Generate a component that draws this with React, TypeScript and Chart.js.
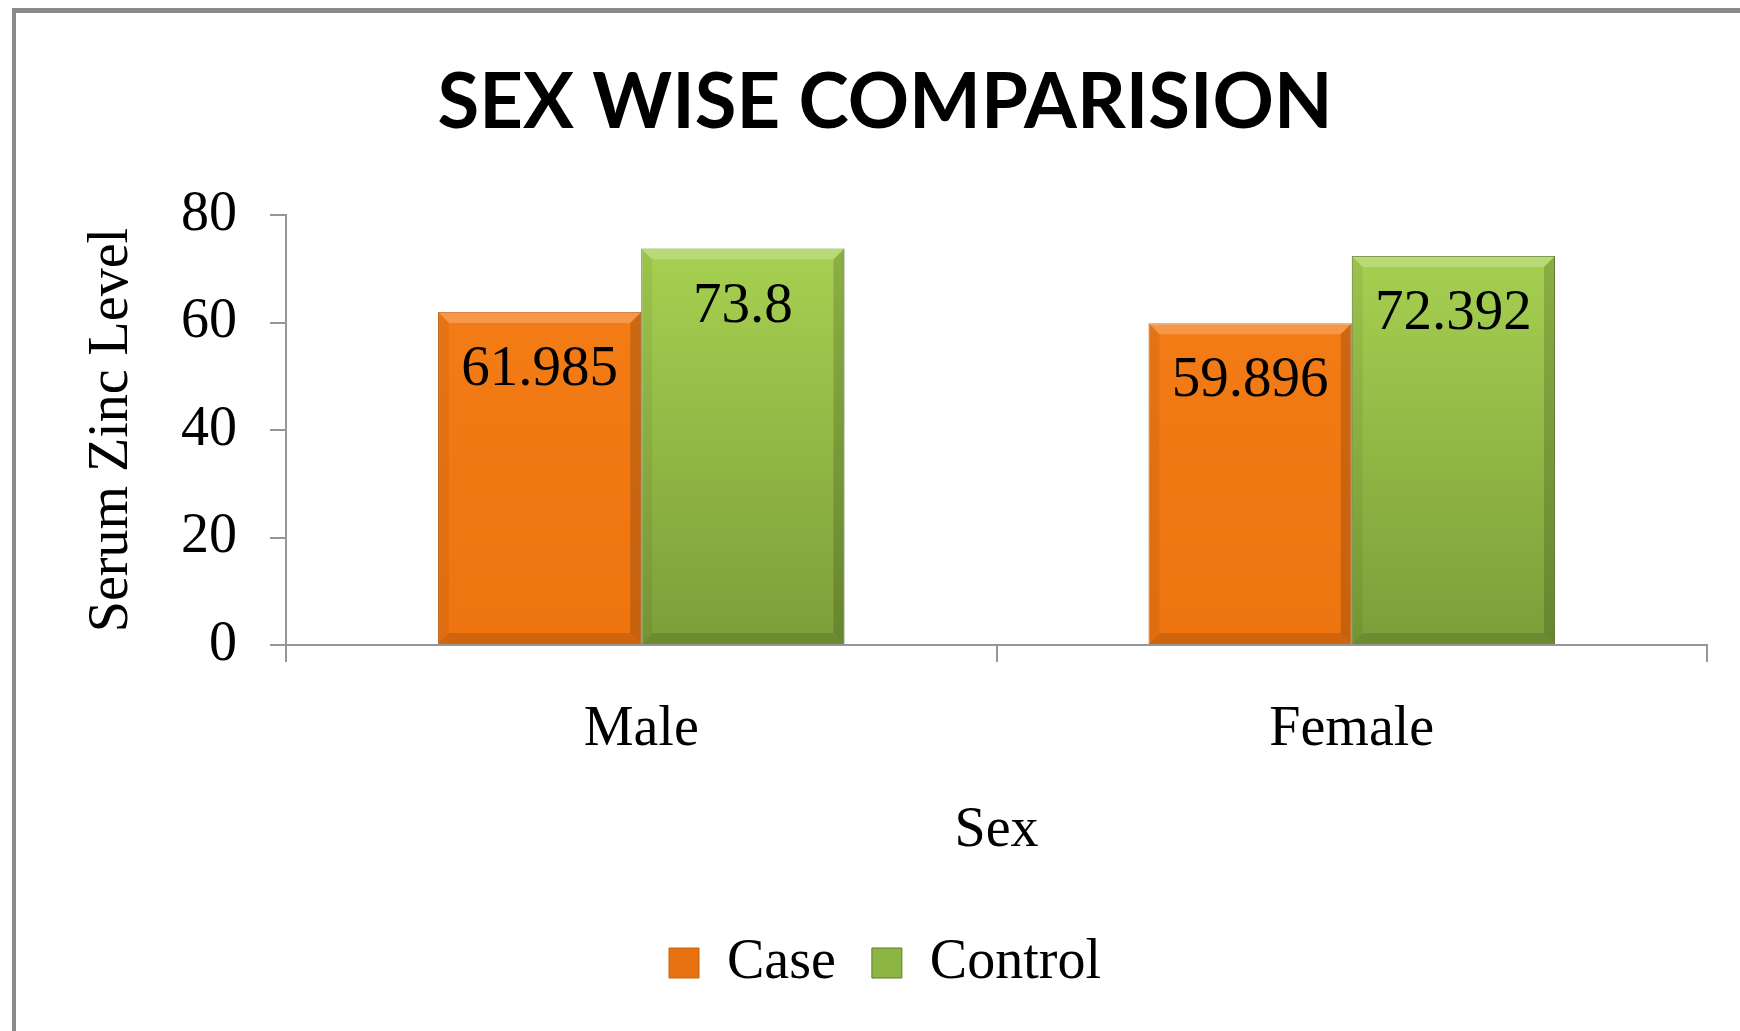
import React, { useEffect, useRef } from 'react';
import { Chart, registerables } from 'chart.js';

Chart.register(...registerables);

const categories = ['Male', 'Female'];
const seriesNames = ['Case', 'Control'];
const caseValues = [61.985, 59.896];
const controlValues = [73.8, 72.392];
const yTickValues = [0, 20, 40, 60, 80];

const titleText = 'SEX WISE COMPARISION';
const xTitle = 'Sex';
const yTitle = 'Serum Zinc Level';

const SERIF = "'Liberation Serif', 'Times New Roman', serif";
const AXIS_GRAY = '#969696';

const valueLabelPlugin = {
  id: 'valueLabels',
  afterDatasetsDraw(chart: any) {
    const ctx = chart.ctx;
    ctx.save();
    chart.data.datasets.forEach((ds: any, di: number) => {
      const meta = chart.getDatasetMeta(di);
      meta.data.forEach((bar: any, i: number) => {
        const { x, y, width, base } = bar.getProps(['x', 'y', 'width', 'base'], true);
        const left = x - width / 2;
        const right = x + width / 2;
        const w = 11;
        // bevel: top highlight
        ctx.beginPath();
        ctx.moveTo(left, y);
        ctx.lineTo(right, y);
        ctx.lineTo(right - w, y + w);
        ctx.lineTo(left + w, y + w);
        ctx.closePath();
        ctx.fillStyle = 'rgba(255,255,255,0.22)';
        ctx.fill();
        // left side
        ctx.beginPath();
        ctx.moveTo(left, y);
        ctx.lineTo(left + w, y + w);
        ctx.lineTo(left + w, base - w);
        ctx.lineTo(left, base);
        ctx.closePath();
        ctx.fillStyle = 'rgba(0,0,0,0.06)';
        ctx.fill();
        // right side
        ctx.beginPath();
        ctx.moveTo(right, y);
        ctx.lineTo(right - w, y + w);
        ctx.lineTo(right - w, base - w);
        ctx.lineTo(right, base);
        ctx.closePath();
        ctx.fillStyle = 'rgba(0,0,0,0.16)';
        ctx.fill();
        // bottom
        ctx.beginPath();
        ctx.moveTo(left, base);
        ctx.lineTo(left + w, base - w);
        ctx.lineTo(right - w, base - w);
        ctx.lineTo(right, base);
        ctx.closePath();
        ctx.fillStyle = 'rgba(0,0,0,0.12)';
        ctx.fill();

        const v = ds.data[i];
        ctx.font = `57px ${SERIF}`;
        ctx.fillStyle = '#000';
        ctx.textAlign = 'center';
        ctx.textBaseline = 'alphabetic';
        ctx.fillText(String(v), x, y + 73);
      });
    });
    ctx.restore();
  },
};

function makeGradient(chart: any, top: string, bottom: string, fallback: string) {
  const area = chart.chartArea;
  if (!area) return fallback;
  const g = chart.ctx.createLinearGradient(0, area.top, 0, area.bottom);
  g.addColorStop(0, top);
  g.addColorStop(1, bottom);
  return g;
}

export default function App() {
  const canvasRef = useRef<HTMLCanvasElement | null>(null);

  useEffect(() => {
    if (!canvasRef.current) return;
    const chart = new Chart(canvasRef.current, {
      type: 'bar',
      data: {
        labels: categories,
        datasets: [
          {
            label: seriesNames[0],
            data: caseValues,
            backgroundColor: (c: any) => makeGradient(c.chart, '#F47E18', '#EE7410', '#F07814'),
            borderColor: '#C9620E',
            borderWidth: 1,
            categoryPercentage: 0.572,
            barPercentage: 1.0,
          },
          {
            label: seriesNames[1],
            data: controlValues,
            backgroundColor: (c: any) => makeGradient(c.chart, '#AAD553', '#7C9E39', '#93BE45'),
            borderColor: '#5E7F28',
            borderWidth: 1,
            categoryPercentage: 0.572,
            barPercentage: 1.0,
          },
        ],
      },
      options: {
        animation: false,
        responsive: true,
        maintainAspectRatio: false,
        devicePixelRatio: 1,
        layout: { padding: { left: 47, right: 33, top: 0, bottom: 30 } },
        font: { family: SERIF },
        plugins: {
          tooltip: { enabled: false },
          title: {
            display: true,
            text: titleText,
            color: '#000',
            font: { family: "Lato, 'Liberation Sans', sans-serif", size: 76, weight: 'bold' },
            padding: { top: 45, bottom: 66 },
          },
          legend: {
            display: true,
            position: 'bottom',
            labels: {
              boxWidth: 30,
              boxHeight: 30,
              padding: 36,
              color: '#000',
              font: { family: SERIF, size: 56 },
              generateLabels: (ch: any) => {
                const items = (Chart.defaults as any).plugins.legend.labels.generateLabels(ch);
                const fills = ['#E8720F', '#8DB543'];
                const strokes = ['#C9620E', '#5E7F28'];
                return items.map((it: any, i: number) => ({
                  ...it,
                  fillStyle: fills[i],
                  strokeStyle: strokes[i],
                  lineWidth: 1,
                }));
              },
            },
          },
        },
        scales: {
          x: {
            grid: {
              offset: true,
              drawOnChartArea: false,
              drawTicks: true,
              tickLength: 17,
              color: AXIS_GRAY,
              lineWidth: 2,
            },
            border: { color: AXIS_GRAY, width: 2 },
            ticks: {
              color: '#000',
              font: { family: SERIF, size: 56 },
              padding: 35,
            },
            title: {
              display: true,
              text: xTitle,
              color: '#000',
              font: { family: SERIF, size: 56 },
              padding: { top: 0, bottom: 34 },
            },
            afterFit: (s: any) => {
              s.height = 254;
            },
          },
          y: {
            min: 0,
            max: 80,
            afterBuildTicks: (s: any) => {
              s.ticks = yTickValues.map((v) => ({ value: v }));
            },
            grid: {
              drawOnChartArea: false,
              drawTicks: true,
              tickLength: 16,
              color: AXIS_GRAY,
              lineWidth: 2,
            },
            border: { color: AXIS_GRAY, width: 2 },
            ticks: {
              color: '#000',
              font: { family: SERIF, size: 56 },
              padding: 33,
            },
            title: {
              display: true,
              text: yTitle,
              color: '#000',
              font: { family: SERIF, size: 56 },
              padding: { top: 16, bottom: 0 },
            },
            afterFit: (s: any) => {
              s.width = 223;
            },
          },
        },
      },
      plugins: [valueLabelPlugin],
    } as any);
    return () => chart.destroy();
  }, []);

  return (
    <div
      style={{
        position: 'absolute',
        left: 12,
        top: 8,
        width: 1724,
        height: 1018,
        borderTop: '5px solid #8a8a8a',
        borderLeft: '4px solid #8a8a8a',
        background: '#fff',
        overflow: 'hidden',
      }}
    >
      <div style={{ position: 'relative', width: 1724, height: 1018 }}>
        <canvas ref={canvasRef} />
      </div>
    </div>
  );
}
